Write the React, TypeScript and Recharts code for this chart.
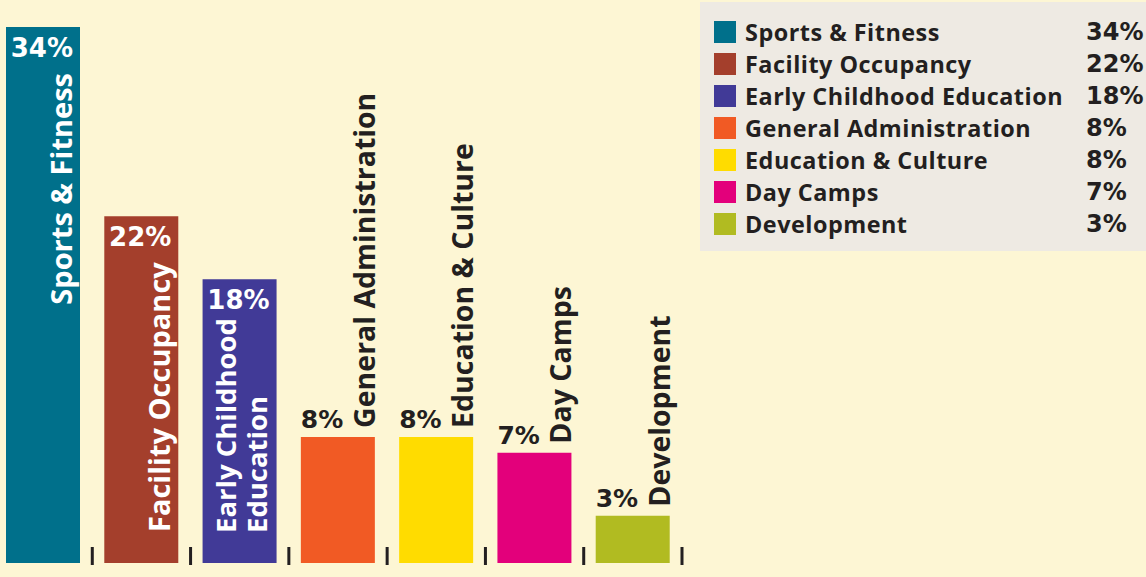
import React from "react";
import { BarChart, Bar, XAxis, YAxis, Cell, Legend } from "recharts";

const categories = [
  "Sports & Fitness",
  "Facility Occupancy",
  "Early Childhood Education",
  "General Administration",
  "Education & Culture",
  "Day Camps",
  "Development",
];
const shares = [34, 22, 18, 8, 8, 7, 3];
const colors = ["#00708B", "#A43F2C", "#413A97", "#F15A24", "#FFDC00", "#E3007B", "#B1BB21"];
const percentLabels = ["34%", "22%", "18%", "8%", "8%", "7%", "3%"];

const data = categories.map((name, i) => ({ name, value: shares[i] }));

const BG = "#FDF6D4";
const INK = "#231F20";
const NAME_FONT = "'Open Sans', sans-serif";
const NUM_FONT = "'DejaVu Sans', sans-serif";

const W = 1153;
const H = 577;
const MARGIN = { top: 27, right: 464, bottom: 0, left: 1 };
const BAND = (W - MARGIN.left - MARGIN.right) / categories.length;

const BoundaryTick = (props: any) => {
  const { x, y, payload } = props;
  const off = payload && typeof payload.offset === "number" && payload.offset > 0 ? payload.offset : BAND / 2;
  return <rect x={x + off - 1.5} y={y - 16} width={3} height={18} fill={INK} />;
};

const splitLines = (s: string) => {
  if (s.length <= 20) return [s];
  const k = s.lastIndexOf(" ");
  return [s.slice(0, k), s.slice(k + 1)];
};

const renderBarLabel = (props: any) => {
  const { x, y, width, height, index } = props;
  const name = categories[index];
  const pct = percentLabels[index];
  const inside = height > 200;
  const right = x + width;
  const bottom = y + height;
  if (inside) {
    const lines = splitLines(name);
    return (
      <g>
        <text x={right - 7} y={y + 30} textAnchor="end" fill="#fff" fontFamily={NUM_FONT} fontWeight={700} fontSize={26}>
          {pct}
        </text>
        {lines.length === 1 ? (
          <text
            x={right - 8}
            y={y + 46}
            transform={`rotate(-90 ${right - 8} ${y + 46})`}
            textAnchor="end"
            fill="#fff"
            fontFamily={NAME_FONT}
            fontWeight={700}
            fontSize={29}
          >
            {name}
          </text>
        ) : (
          lines.map((ln, j) => {
            const bx = right - 10 - (lines.length - 1 - j) * 31;
            const by = bottom - 30;
            return (
              <text
                key={j}
                x={bx}
                y={by}
                transform={`rotate(-90 ${bx} ${by})`}
                textAnchor="start"
                fill="#fff"
                fontFamily={NAME_FONT}
                fontWeight={700}
                fontSize={27.5}
              >
                {ln}
              </text>
            );
          })
        )}
      </g>
    );
  }
  return (
    <g>
      <text x={x} y={y - 9} textAnchor="start" fill={INK} fontFamily={NUM_FONT} fontWeight={700} fontSize={25}>
        {pct}
      </text>
      <text
        x={right}
        y={y - 9}
        transform={`rotate(-90 ${right} ${y - 9})`}
        textAnchor="start"
        fill={INK}
        fontFamily={NAME_FONT}
        fontWeight={700}
        fontSize={28.5}
      >
        {name}
      </text>
    </g>
  );
};

const LegendBox = () => (
  <div style={{ position: "relative", width: 446, height: 249, background: "#EEEAE3" }}>
    {categories.map((c, i) => (
      <div key={c} style={{ position: "absolute", left: 0, top: 14 + 32 * i, width: 446, height: 32 }}>
        <div style={{ position: "absolute", left: 14, top: 5, width: 22, height: 22, background: colors[i] }} />
        <div
          style={{
            position: "absolute",
            left: 45,
            top: 0,
            lineHeight: "32px",
            fontFamily: NAME_FONT,
            fontWeight: 700,
            fontSize: 23.4,
            letterSpacing: 0.5,
            color: INK,
            whiteSpace: "nowrap",
          }}
        >
          {c}
        </div>
        <div
          style={{
            position: "absolute",
            left: 386,
            top: 0,
            lineHeight: "32px",
            fontFamily: NUM_FONT,
            fontWeight: 700,
            fontSize: 24,
            color: INK,
            whiteSpace: "nowrap",
          }}
        >
          {percentLabels[i]}
        </div>
      </div>
    ))}
  </div>
);

export default function App() {
  return (
    <div style={{ position: "fixed", left: 0, top: 0, width: 1146, height: 577, background: BG, overflow: "hidden" }}>
      <div style={{ position: "absolute", left: -7, top: 0 }}>
        <BarChart width={W} height={H} data={data} margin={MARGIN}>
          <XAxis
            dataKey="name"
            height={14}
            axisLine={false}
            tickLine={false}
            tickSize={0}
            tickMargin={0}
            interval={0}
            tick={<BoundaryTick />}
          />
          <YAxis hide domain={[0, 34]} />
          <Legend
            layout="vertical"
            align="center"
            verticalAlign="middle"
            content={() => <LegendBox />}
            wrapperStyle={{ position: "absolute", left: 707, top: 2, width: 446, height: 249 }}
          />
          <Bar dataKey="value" barSize={74} isAnimationActive={false} label={renderBarLabel}>
            {data.map((d, i) => (
              <Cell key={d.name} fill={colors[i]} />
            ))}
          </Bar>
        </BarChart>
      </div>
    </div>
  );
}
